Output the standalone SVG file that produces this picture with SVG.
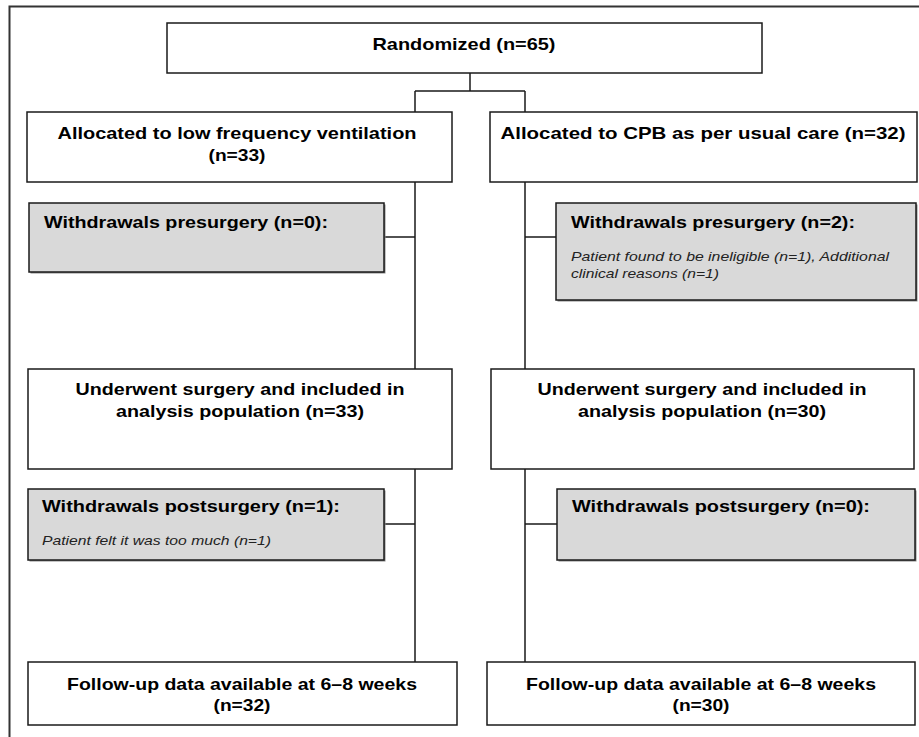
<svg xmlns="http://www.w3.org/2000/svg" width="919" height="737" viewBox="0 0 919 737">
<style>
.box{fill:#ffffff;stroke:#1a1a1a;stroke-width:1.5}
.gbox{fill:#d9d9d9;stroke:#1a1a1a;stroke-width:1.5}
.shadow{fill:#8a8a8a}
.t{font-family:"Liberation Sans",Arial,sans-serif;font-weight:bold;font-size:17px;fill:#000}
.c{text-anchor:middle}
.i{font-family:"Liberation Sans",Arial,sans-serif;font-style:italic;font-size:13px;fill:#222}
.ln{stroke:#1a1a1a;stroke-width:1.5;fill:none}
</style>
<rect width="919" height="737" fill="#ffffff"/>
<path d="M9.5,737 V6.5 H919" fill="none" stroke="#333333" stroke-width="2"/>
<g id="connectors">
<path class="ln" d="M470,73 V91 M415,91 H525 M415,91 V112 M525,91 V112"/>
<path class="ln" d="M415,182 V369 M384,237 H415"/>
<path class="ln" d="M525,182 V369 M525,237 H556"/>
<path class="ln" d="M415,469 V662 M384,524 H415"/>
<path class="ln" d="M525,469 V662 M525,524 H557"/>
</g>
<g id="randomized">
<rect class="box" x="167" y="23" width="595" height="50"/>
<text class="t c" x="464" y="50" textLength="183" lengthAdjust="spacingAndGlyphs">Randomized (n=65)</text>
</g>
<g id="alloc_low">
<rect class="box" x="27" y="112" width="425" height="70"/>
<text class="t c" x="237" y="139" textLength="359" lengthAdjust="spacingAndGlyphs">Allocated to low frequency ventilation</text>
<text class="t c" x="237" y="161" textLength="57" lengthAdjust="spacingAndGlyphs">(n=33)</text>
</g>
<g id="alloc_cpb">
<rect class="box" x="490" y="112" width="427" height="70"/>
<text class="t c" x="703" y="139" textLength="405" lengthAdjust="spacingAndGlyphs">Allocated to CPB as per usual care (n=32)</text>
</g>
<g id="pre_low">
<rect class="shadow" x="30.5" y="204.5" width="355" height="69"/>
<rect class="gbox" x="29" y="203" width="355" height="69"/>
<text class="t" x="44" y="228" textLength="284" lengthAdjust="spacingAndGlyphs">Withdrawals presurgery (n=0):</text>
</g>
<g id="pre_cpb">
<rect class="shadow" x="557.5" y="204.5" width="360" height="97"/>
<rect class="gbox" x="556" y="203" width="360" height="97"/>
<text class="t" x="571" y="228" textLength="284" lengthAdjust="spacingAndGlyphs">Withdrawals presurgery (n=2):</text>
<text class="i" x="571" y="261" textLength="318" lengthAdjust="spacingAndGlyphs">Patient found to be ineligible (n=1), Additional</text>
<text class="i" x="571" y="278" textLength="148" lengthAdjust="spacingAndGlyphs">clinical reasons (n=1)</text>
</g>
<g id="under_low">
<rect class="box" x="28" y="369" width="424" height="100"/>
<text class="t c" x="240" y="395" textLength="329" lengthAdjust="spacingAndGlyphs">Underwent surgery and included in</text>
<text class="t c" x="240" y="417" textLength="248" lengthAdjust="spacingAndGlyphs">analysis population (n=33)</text>
</g>
<g id="under_cpb">
<rect class="box" x="491" y="369" width="423" height="100"/>
<text class="t c" x="702" y="395" textLength="329" lengthAdjust="spacingAndGlyphs">Underwent surgery and included in</text>
<text class="t c" x="702" y="417" textLength="248" lengthAdjust="spacingAndGlyphs">analysis population (n=30)</text>
</g>
<g id="post_low">
<rect class="shadow" x="29.5" y="490.5" width="356" height="71"/>
<rect class="gbox" x="28" y="489" width="356" height="71"/>
<text class="t" x="42" y="512" textLength="298" lengthAdjust="spacingAndGlyphs">Withdrawals postsurgery (n=1):</text>
<text class="i" x="42" y="545" textLength="229" lengthAdjust="spacingAndGlyphs">Patient felt it was too much (n=1)</text>
</g>
<g id="post_cpb">
<rect class="shadow" x="558.5" y="490.5" width="358" height="71"/>
<rect class="gbox" x="557" y="489" width="358" height="71"/>
<text class="t" x="572" y="512" textLength="298" lengthAdjust="spacingAndGlyphs">Withdrawals postsurgery (n=0):</text>
</g>
<g id="follow_low">
<rect class="box" x="28" y="662" width="429" height="63"/>
<text class="t c" x="242" y="690" textLength="350" lengthAdjust="spacingAndGlyphs">Follow-up data available at 6–8 weeks</text>
<text class="t c" x="242" y="711" textLength="57" lengthAdjust="spacingAndGlyphs">(n=32)</text>
</g>
<g id="follow_cpb">
<rect class="box" x="487" y="662" width="428" height="63"/>
<text class="t c" x="701" y="690" textLength="350" lengthAdjust="spacingAndGlyphs">Follow-up data available at 6–8 weeks</text>
<text class="t c" x="701" y="711" textLength="57" lengthAdjust="spacingAndGlyphs">(n=30)</text>
</g>
</svg>
